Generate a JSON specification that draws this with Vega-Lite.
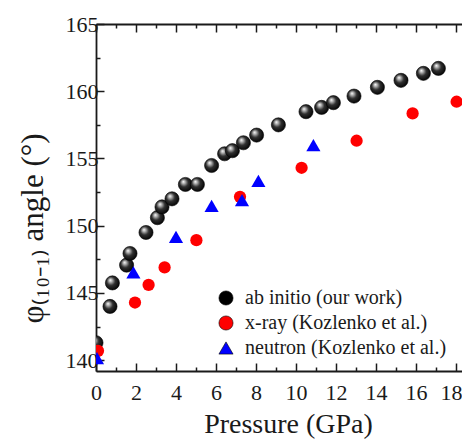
{
  "$schema": "https://vega.github.io/schema/vega-lite/v6.json",
  "width": 366,
  "height": 347,
  "autosize": {"type": "none"},
  "padding": {"left": 96, "top": 24, "right": 0, "bottom": 68},
  "config": {
    "view": {"stroke": null},
    "font": "Liberation Serif",
    "axis": {
      "grid": false,
      "domainColor": "#1a1a1a",
      "tickColor": "#1a1a1a",
      "domainWidth": 1.8,
      "tickWidth": 1.5,
      "labelFont": "Liberation Serif",
      "labelFontSize": 22,
      "labelColor": "#1a1a1a",
      "titleFont": "Liberation Serif",
      "titleFontWeight": "normal",
      "titleColor": "#1a1a1a"
    },
    "legend": {
      "labelFont": "Liberation Serif",
      "labelFontSize": 20,
      "labelColor": "#1a1a1a"
    }
  },
  "resolve": {"axis": {"x": "independent", "y": "independent"}},
  "layer": [
    {
      "data": {"values": [
        {"series": "ab initio (our work)", "P": 0, "angle": 141.3},
        {"series": "ab initio (our work)", "P": 0.7, "angle": 144.0},
        {"series": "ab initio (our work)", "P": 0.82, "angle": 145.75},
        {"series": "ab initio (our work)", "P": 1.53, "angle": 147.07},
        {"series": "ab initio (our work)", "P": 1.7, "angle": 147.94},
        {"series": "ab initio (our work)", "P": 2.5, "angle": 149.5},
        {"series": "ab initio (our work)", "P": 3.07, "angle": 150.6},
        {"series": "ab initio (our work)", "P": 3.3, "angle": 151.4},
        {"series": "ab initio (our work)", "P": 3.8, "angle": 152.0},
        {"series": "ab initio (our work)", "P": 4.47, "angle": 153.07},
        {"series": "ab initio (our work)", "P": 5.07, "angle": 153.07},
        {"series": "ab initio (our work)", "P": 5.78, "angle": 154.48},
        {"series": "ab initio (our work)", "P": 6.43, "angle": 155.35},
        {"series": "ab initio (our work)", "P": 6.82, "angle": 155.58},
        {"series": "ab initio (our work)", "P": 7.37, "angle": 156.17},
        {"series": "ab initio (our work)", "P": 8.03, "angle": 156.74},
        {"series": "ab initio (our work)", "P": 9.12, "angle": 157.5},
        {"series": "ab initio (our work)", "P": 10.5, "angle": 158.48},
        {"series": "ab initio (our work)", "P": 11.28, "angle": 158.8},
        {"series": "ab initio (our work)", "P": 11.87, "angle": 159.15},
        {"series": "ab initio (our work)", "P": 12.9, "angle": 159.64},
        {"series": "ab initio (our work)", "P": 14.07, "angle": 160.29},
        {"series": "ab initio (our work)", "P": 15.25, "angle": 160.81},
        {"series": "ab initio (our work)", "P": 16.37, "angle": 161.33},
        {"series": "ab initio (our work)", "P": 17.12, "angle": 161.7}
      ]},
      "mark": {
        "type": "point", "filled": true, "size": 200, "opacity": 1, "clip": true,
        "fill": {"gradient": "radial", "x1": 0.35, "y1": 0.3, "r1": 0, "x2": 0.45, "y2": 0.45, "r2": 0.6,
          "stops": [{"offset": 0, "color": "#ffffff"}, {"offset": 0.2, "color": "#b0b0b0"}, {"offset": 0.5, "color": "#303030"}, {"offset": 1, "color": "#000000"}]},
        "stroke": "#000000", "strokeWidth": 0.6
      },
      "encoding": {
        "x": {"field": "P", "type": "quantitative",
          "scale": {"domain": [0, 18.3], "nice": false, "zero": false},
          "axis": {"orient": "bottom", "values": [0, 2, 4, 6, 8, 10, 12, 14, 16, 18], "tickSize": -8,
            "labelPadding": 29, "labelBaseline": "middle", "labelFlush": false, "labelOverlap": false,
            "labelOffset": {"condition": {"test": "datum.value === 18", "value": -5}, "value": 0},
            "title": "Pressure (GPa)", "titleFontSize": 28, "titleX": 192, "titleY": 61,
            "titleBaseline": "alphabetic", "titleAlign": "center"}},
        "y": {"field": "angle", "type": "quantitative",
          "scale": {"domain": [139.2, 165], "nice": false, "zero": false},
          "axis": {"orient": "left", "values": [140, 145, 150, 155, 160, 165], "tickSize": -8,
            "labelPadding": 6, "labelBaseline": "middle", "labelOverlap": false,
            "title": "φ₍₁₀₋₁₎ angle (°)", "titleFontSize": 31, "titleAngle": 270,
            "titleX": -54, "titleY": 204, "titleBaseline": "alphabetic", "titleAlign": "center"}},
        "shape": {"field": "series", "type": "nominal",
          "scale": {"domain": ["ab initio (our work)", "x-ray (Kozlenko et al.)", "neutron (Kozlenko et al.)"], "range": ["circle", "circle", "triangle-up"]},
          "legend": {"title": null, "orient": "none", "legendX": 120, "legendY": 264,
            "labelFont": "Liberation Serif", "labelFontSize": 20, "labelColor": "#1a1a1a", "labelOffset": 9,
            "rowPadding": 5, "symbolSize": 200, "symbolStrokeWidth": 0.6, "padding": 0, "labelLimit": 300,
            "encode": {"symbols": {"update": {
              "fill": [{"test": "datum.value === 'ab initio (our work)'", "value": {"gradient": "radial", "x1": 0.35, "y1": 0.3, "r1": 0, "x2": 0.45, "y2": 0.45, "r2": 0.6,
                "stops": [{"offset": 0, "color": "#ffffff"}, {"offset": 0.2, "color": "#b0b0b0"}, {"offset": 0.5, "color": "#303030"}, {"offset": 1, "color": "#000000"}]}}, {"scale": "color", "field": "value"}],
              "stroke": [{"test": "datum.value === 'ab initio (our work)'", "value": "#000000"}, {"value": "transparent"}]
            }}}}}
      }
    },
    {
      "data": {"values": [
        {"series": "x-ray (Kozlenko et al.)", "P": 0.1, "angle": 140.7},
        {"series": "x-ray (Kozlenko et al.)", "P": 1.95, "angle": 144.29},
        {"series": "x-ray (Kozlenko et al.)", "P": 2.63, "angle": 145.6},
        {"series": "x-ray (Kozlenko et al.)", "P": 3.43, "angle": 146.9},
        {"series": "x-ray (Kozlenko et al.)", "P": 5.02, "angle": 148.93},
        {"series": "x-ray (Kozlenko et al.)", "P": 7.2, "angle": 152.15},
        {"series": "x-ray (Kozlenko et al.)", "P": 10.28, "angle": 154.31},
        {"series": "x-ray (Kozlenko et al.)", "P": 13.03, "angle": 156.32},
        {"series": "x-ray (Kozlenko et al.)", "P": 15.83, "angle": 158.35},
        {"series": "x-ray (Kozlenko et al.)", "P": 18.03, "angle": 159.22}
      ]},
      "mark": {"type": "point", "filled": true, "size": 150, "opacity": 1, "clip": true},
      "encoding": {
        "x": {"field": "P", "type": "quantitative",
          "scale": {"domain": [0, 18.3], "nice": false, "zero": false},
          "axis": {"orient": "bottom", "values": [1, 3, 5, 7, 9, 11, 13, 15, 17], "tickSize": -4, "labels": false, "domain": false, "title": null}},
        "y": {"field": "angle", "type": "quantitative",
          "scale": {"domain": [139.2, 165], "nice": false, "zero": false},
          "axis": {"orient": "left", "values": [142.5, 147.5, 152.5, 157.5, 162.5], "tickSize": -4, "labels": false, "domain": false, "title": null}},
        "color": {"field": "series", "type": "nominal",
          "scale": {"domain": ["ab initio (our work)", "x-ray (Kozlenko et al.)", "neutron (Kozlenko et al.)"], "range": ["#000000", "#ff0000", "#0000ff"]},
          "legend": {"title": null, "orient": "none", "legendX": 120, "legendY": 264,
            "labelFont": "Liberation Serif", "labelFontSize": 20, "labelColor": "#1a1a1a", "labelOffset": 9,
            "rowPadding": 5, "symbolSize": 200, "symbolStrokeWidth": 0.6, "padding": 0, "labelLimit": 300,
            "encode": {"symbols": {"update": {
              "fill": [{"test": "datum.value === 'ab initio (our work)'", "value": {"gradient": "radial", "x1": 0.35, "y1": 0.3, "r1": 0, "x2": 0.45, "y2": 0.45, "r2": 0.6,
                "stops": [{"offset": 0, "color": "#ffffff"}, {"offset": 0.2, "color": "#b0b0b0"}, {"offset": 0.5, "color": "#303030"}, {"offset": 1, "color": "#000000"}]}}, {"scale": "color", "field": "value"}],
              "stroke": [{"test": "datum.value === 'ab initio (our work)'", "value": "#000000"}, {"value": "transparent"}]
            }}}}},
        "shape": {"field": "series", "type": "nominal",
          "scale": {"domain": ["ab initio (our work)", "x-ray (Kozlenko et al.)", "neutron (Kozlenko et al.)"], "range": ["circle", "circle", "triangle-up"]}}
      }
    },
    {
      "data": {"values": [
        {"series": "neutron (Kozlenko et al.)", "P": 0.05, "angle": 140.15},
        {"series": "neutron (Kozlenko et al.)", "P": 1.87, "angle": 146.53},
        {"series": "neutron (Kozlenko et al.)", "P": 4.0, "angle": 149.18},
        {"series": "neutron (Kozlenko et al.)", "P": 5.78, "angle": 151.48},
        {"series": "neutron (Kozlenko et al.)", "P": 7.3, "angle": 151.9},
        {"series": "neutron (Kozlenko et al.)", "P": 8.12, "angle": 153.34},
        {"series": "neutron (Kozlenko et al.)", "P": 10.87, "angle": 156.0}
      ]},
      "mark": {"type": "point", "filled": true, "size": 200, "opacity": 1, "clip": true},
      "encoding": {
        "x": {"field": "P", "type": "quantitative",
          "scale": {"domain": [0, 18.3], "nice": false, "zero": false},
          "axis": {"orient": "top", "values": [0, 2, 4, 6, 8, 10, 12, 14, 16, 18], "tickSize": -8, "labels": false, "title": null}},
        "y": {"field": "angle", "type": "quantitative",
          "scale": {"domain": [139.2, 165], "nice": false, "zero": false}, "axis": null},
        "color": {"field": "series", "type": "nominal",
          "scale": {"domain": ["ab initio (our work)", "x-ray (Kozlenko et al.)", "neutron (Kozlenko et al.)"], "range": ["#000000", "#ff0000", "#0000ff"]}},
        "shape": {"field": "series", "type": "nominal",
          "scale": {"domain": ["ab initio (our work)", "x-ray (Kozlenko et al.)", "neutron (Kozlenko et al.)"], "range": ["circle", "circle", "triangle-up"]}}
      }
    },
    {
      "data": {"values": [
        {"P": 1.87, "angle": 146.53}
      ]},
      "mark": {"type": "point", "opacity": 0, "clip": true},
      "encoding": {
        "x": {"field": "P", "type": "quantitative",
          "scale": {"domain": [0, 18.3], "nice": false, "zero": false},
          "axis": {"orient": "top", "values": [1, 3, 5, 7, 9, 11, 13, 15, 17], "tickSize": -4, "labels": false, "domain": false, "title": null}},
        "y": {"field": "angle", "type": "quantitative",
          "scale": {"domain": [139.2, 165], "nice": false, "zero": false}, "axis": null}
      }
    }
  ]
}
